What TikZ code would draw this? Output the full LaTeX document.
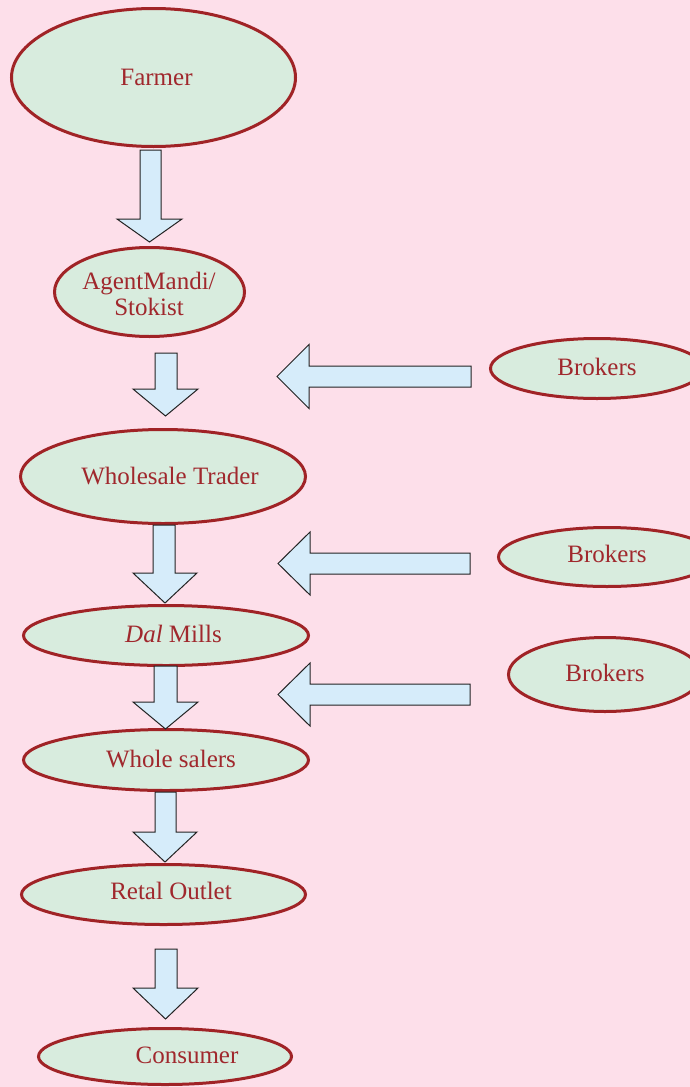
\documentclass[tikz,border=0pt]{standalone}
\usepackage{fontspec}
\setmainfont{Liberation Serif}
\usetikzlibrary{shapes.geometric}

\definecolor{pagebg}{RGB}{253,223,234}
\definecolor{ovalfill}{RGB}{216,236,222}
\definecolor{ovalline}{RGB}{160,35,38}
\definecolor{labelred}{RGB}{160,40,45}
\definecolor{arrowfill}{RGB}{214,236,250}
\definecolor{arrowline}{RGB}{35,35,35}

\tikzset{
  oval/.style={ellipse, draw=ovalline, fill=ovalfill, line width=3pt, inner sep=0pt},
  label text/.style={text=labelred, font=\fontsize{25}{29}\selectfont, inner sep=0pt, anchor=base},
  blockarrow/.style={draw=arrowline, fill=arrowfill, line width=1pt, line join=miter}
}

% downward block arrow: shaft x-left, shaft x-right, shaft top, head top, head x-left, head x-right, tip y
\newcommand{\downblock}[7]{%
  \draw[blockarrow] (#1,#3) -- (#1,#4) -- (#5,#4) -- ({(#5+#6)/2},#7) -- (#6,#4) -- (#2,#4) -- (#2,#3) -- cycle;}
% leftward block arrow: tip x, centre y, head back x, shaft half height, head half height, shaft end x
\newcommand{\leftblock}[6]{%
  \draw[blockarrow] (#1,#2) -- (#3,#2-#5) -- (#3,#2-#4) -- (#6,#2-#4) -- (#6,#2+#4) -- (#3,#2+#4) -- (#3,#2+#5) -- cycle;}

\begin{document}
\begin{tikzpicture}[x=1pt, y=-1pt]
  \fill[pagebg] (0,0) rectangle (690,1087);
  \useasboundingbox (0,0) rectangle (690,1087);

  % supply chain stages
  \node[oval, minimum width=284pt, minimum height=138pt] (farmer) at (153.5,77.5) {};
  \node[oval, minimum width=190pt, minimum height=89pt] (agent) at (149.5,292) {};
  \node[oval, minimum width=285pt, minimum height=94pt] (trader) at (163,476.5) {};
  \node[oval, minimum width=285pt, minimum height=60pt] (mills) at (166,635.5) {};
  \node[oval, minimum width=285pt, minimum height=61pt] (salers) at (166,760) {};
  \node[oval, minimum width=284pt, minimum height=60pt] (outlet) at (163.5,894.5) {};
  \node[oval, minimum width=253pt, minimum height=56pt] (consumer) at (165,1056.5) {};

  % brokers
  \node[oval, minimum width=213pt, minimum height=60pt] (brokerA) at (597,368.5) {};
  \node[oval, minimum width=217pt, minimum height=59pt] (brokerB) at (607,557) {};
  \node[oval, minimum width=193pt, minimum height=74pt] (brokerC) at (605,674.5) {};

  % labels
  \node[label text] (farmer-t) at (156.5,85) {Farmer};
  \node[label text] (agent-t1) at (149,289) {AgentMandi/};
  \node[label text] (agent-t2) at (149,315) {Stokist};
  \node[label text] (trader-t) at (170,484) {Wholesale Trader};
  \node[label text] (mills-t) at (173.5,642) {\textit{Dal} Mills};
  \node[label text] (salers-t) at (171,767) {Whole salers};
  \node[label text] (outlet-t) at (171,899) {Retal Outlet};
  \node[label text] (consumer-t) at (187,1063) {Consumer};
  \node[label text] (brokerA-t) at (597,375) {Brokers};
  \node[label text] (brokerB-t) at (607,562) {Brokers};
  \node[label text] (brokerC-t) at (605,681) {Brokers};

  % flow arrows
  \downblock{140}{161}{150}{219}{117}{182}{242}
  \downblock{155}{177}{353}{389}{133}{198}{416}
  \downblock{153}{175}{525}{573}{133}{197}{603}
  \downblock{154}{177}{666}{702}{133}{198}{729}
  \downblock{155}{176}{792}{832}{133}{197}{862}
  \downblock{155}{177}{949}{988}{133}{198}{1019}

  % broker arrows
  \leftblock{277}{376.5}{309}{10.5}{32}{471}
  \leftblock{278}{563.5}{310}{10.5}{31.5}{470}
  \leftblock{278}{694.5}{310}{10.5}{31.5}{470}
\end{tikzpicture}
\end{document}
